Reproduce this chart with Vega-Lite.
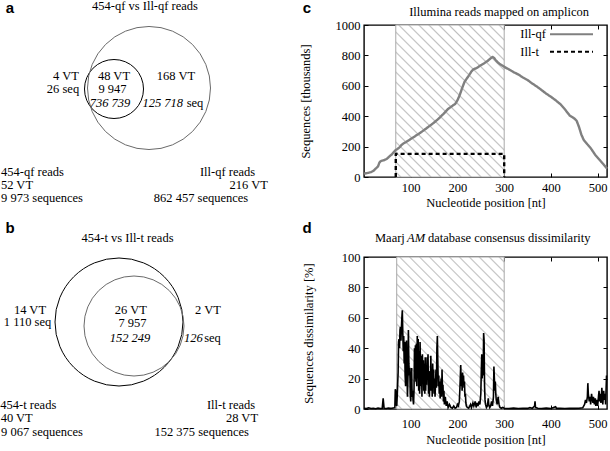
{
  "$schema": "https://vega.github.io/schema/vega-lite/v6.json",
  "padding": 0,
  "background": "white",
  "datasets": {
    "venn_sets": [
      {"panel": "a", "set": "454-qf", "platform": "454", "x": 114, "y": 89, "d": 59},
      {"panel": "a", "set": "Ill-qf", "platform": "Illumina", "x": 149, "y": 88, "d": 123},
      {"panel": "b", "set": "454-t", "platform": "454", "x": 119, "y": 322, "d": 128},
      {"panel": "b", "set": "Ill-t", "platform": "Illumina", "x": 134, "y": 326, "d": 100}
    ],
    "venn_text": [
      {"panel": "a", "t": "454-qf vs Ill-qf reads", "platform": "label", "x": 145, "y": 6},
      {"panel": "a", "t": "4 VT", "platform": "454", "x": 66, "y": 76},
      {"panel": "a", "t": "26 seq", "platform": "454", "x": 63, "y": 89},
      {"panel": "a", "t": "48 VT", "platform": "454", "x": 114, "y": 76},
      {"panel": "a", "t": "9 947", "platform": "454", "x": 112.5, "y": 89},
      {"panel": "a", "t": "736 739", "platform": "Illumina", "x": 110, "y": 102.5},
      {"panel": "a", "t": "168 VT", "platform": "label", "x": 176, "y": 76},
      {"panel": "a", "t": "125 718", "platform": "Illumina", "x": 162.7, "y": 102.5},
      {"panel": "a", "t": "seq", "platform": "label", "x": 195, "y": 102.5},
      {"panel": "a", "t": "454-qf reads", "platform": "label", "x": 32.5, "y": 171.5},
      {"panel": "a", "t": "52 VT", "platform": "label", "x": 17, "y": 184.8},
      {"panel": "a", "t": "9 973 sequences", "platform": "label", "x": 42, "y": 198.1},
      {"panel": "a", "t": "Ill-qf reads", "platform": "label", "x": 227.5, "y": 171.5},
      {"panel": "a", "t": "216 VT", "platform": "label", "x": 248.7, "y": 184.8},
      {"panel": "a", "t": "862 457 sequences", "platform": "label", "x": 201, "y": 198.1},
      {"panel": "b", "t": "454-t vs Ill-t reads", "platform": "label", "x": 127.5, "y": 238.3},
      {"panel": "b", "t": "14 VT", "platform": "454", "x": 30, "y": 309.5},
      {"panel": "b", "t": "1 110 seq", "platform": "454", "x": 27.5, "y": 322},
      {"panel": "b", "t": "26 VT", "platform": "454", "x": 130.8, "y": 310},
      {"panel": "b", "t": "7 957", "platform": "454", "x": 132.5, "y": 323.3},
      {"panel": "b", "t": "152 249", "platform": "Illumina", "x": 130, "y": 338.3},
      {"panel": "b", "t": "2 VT", "platform": "label", "x": 208, "y": 310},
      {"panel": "b", "t": "126", "platform": "Illumina", "x": 193.3, "y": 338.3},
      {"panel": "b", "t": "seq", "platform": "label", "x": 212.5, "y": 338.3},
      {"panel": "b", "t": "454-t reads", "platform": "label", "x": 28.3, "y": 405},
      {"panel": "b", "t": "40 VT", "platform": "label", "x": 16.7, "y": 418.3},
      {"panel": "b", "t": "9 067 sequences", "platform": "label", "x": 42, "y": 431.7},
      {"panel": "b", "t": "Ill-t reads", "platform": "label", "x": 231, "y": 405},
      {"panel": "b", "t": "28 VT", "platform": "label", "x": 242, "y": 418.3},
      {"panel": "b", "t": "152 375 sequences", "platform": "label", "x": 201.7, "y": 431.7}
    ],
    "venn_letters": [
      {"t": "a", "x": 10, "y": 8},
      {"t": "b", "x": 10, "y": 228}
    ],
    "c_region": [{"start": 68, "end": 300, "lo": 0, "hi": 1000}],
    "d_region": [{"start": 70, "end": 300, "lo": 0, "hi": 100}],
    "c_labels": [
      {"t": "c", "x": -122, "y": 1112, "role": "letter"},
      {"t": "Illumina reads mapped on amplicon", "x": 289, "y": 1085, "role": "title"}
    ],
    "c_series": [
      {"series": "Ill-qf", "nt": 0, "val": 22}, {"series": "Ill-qf", "nt": 5, "val": 25}, {"series": "Ill-qf", "nt": 10, "val": 28},
      {"series": "Ill-qf", "nt": 15, "val": 32}, {"series": "Ill-qf", "nt": 20, "val": 40}, {"series": "Ill-qf", "nt": 25, "val": 55},
      {"series": "Ill-qf", "nt": 30, "val": 70}, {"series": "Ill-qf", "nt": 33, "val": 95}, {"series": "Ill-qf", "nt": 36, "val": 105},
      {"series": "Ill-qf", "nt": 42, "val": 110}, {"series": "Ill-qf", "nt": 48, "val": 118}, {"series": "Ill-qf", "nt": 52, "val": 128},
      {"series": "Ill-qf", "nt": 56, "val": 140}, {"series": "Ill-qf", "nt": 60, "val": 150}, {"series": "Ill-qf", "nt": 64, "val": 165},
      {"series": "Ill-qf", "nt": 68, "val": 178}, {"series": "Ill-qf", "nt": 72, "val": 185}, {"series": "Ill-qf", "nt": 76, "val": 195},
      {"series": "Ill-qf", "nt": 80, "val": 210}, {"series": "Ill-qf", "nt": 85, "val": 222}, {"series": "Ill-qf", "nt": 90, "val": 230},
      {"series": "Ill-qf", "nt": 95, "val": 240}, {"series": "Ill-qf", "nt": 100, "val": 250}, {"series": "Ill-qf", "nt": 110, "val": 270},
      {"series": "Ill-qf", "nt": 120, "val": 290}, {"series": "Ill-qf", "nt": 130, "val": 312}, {"series": "Ill-qf", "nt": 140, "val": 335},
      {"series": "Ill-qf", "nt": 150, "val": 358}, {"series": "Ill-qf", "nt": 160, "val": 385}, {"series": "Ill-qf", "nt": 170, "val": 415},
      {"series": "Ill-qf", "nt": 180, "val": 448}, {"series": "Ill-qf", "nt": 190, "val": 470}, {"series": "Ill-qf", "nt": 195, "val": 480},
      {"series": "Ill-qf", "nt": 200, "val": 505}, {"series": "Ill-qf", "nt": 205, "val": 540}, {"series": "Ill-qf", "nt": 210, "val": 585},
      {"series": "Ill-qf", "nt": 215, "val": 625}, {"series": "Ill-qf", "nt": 220, "val": 648}, {"series": "Ill-qf", "nt": 225, "val": 670},
      {"series": "Ill-qf", "nt": 230, "val": 695}, {"series": "Ill-qf", "nt": 235, "val": 710}, {"series": "Ill-qf", "nt": 240, "val": 715},
      {"series": "Ill-qf", "nt": 250, "val": 735}, {"series": "Ill-qf", "nt": 258, "val": 750}, {"series": "Ill-qf", "nt": 265, "val": 765},
      {"series": "Ill-qf", "nt": 270, "val": 778}, {"series": "Ill-qf", "nt": 275, "val": 790}, {"series": "Ill-qf", "nt": 278, "val": 785},
      {"series": "Ill-qf", "nt": 282, "val": 768}, {"series": "Ill-qf", "nt": 286, "val": 755}, {"series": "Ill-qf", "nt": 290, "val": 745},
      {"series": "Ill-qf", "nt": 300, "val": 725}, {"series": "Ill-qf", "nt": 310, "val": 708}, {"series": "Ill-qf", "nt": 320, "val": 690},
      {"series": "Ill-qf", "nt": 330, "val": 675}, {"series": "Ill-qf", "nt": 340, "val": 655}, {"series": "Ill-qf", "nt": 350, "val": 638},
      {"series": "Ill-qf", "nt": 360, "val": 615}, {"series": "Ill-qf", "nt": 370, "val": 595}, {"series": "Ill-qf", "nt": 380, "val": 572},
      {"series": "Ill-qf", "nt": 390, "val": 548}, {"series": "Ill-qf", "nt": 400, "val": 528}, {"series": "Ill-qf", "nt": 410, "val": 505},
      {"series": "Ill-qf", "nt": 420, "val": 480}, {"series": "Ill-qf", "nt": 430, "val": 445}, {"series": "Ill-qf", "nt": 440, "val": 405},
      {"series": "Ill-qf", "nt": 450, "val": 385}, {"series": "Ill-qf", "nt": 455, "val": 370}, {"series": "Ill-qf", "nt": 460, "val": 330},
      {"series": "Ill-qf", "nt": 465, "val": 280}, {"series": "Ill-qf", "nt": 470, "val": 245}, {"series": "Ill-qf", "nt": 478, "val": 215},
      {"series": "Ill-qf", "nt": 485, "val": 190}, {"series": "Ill-qf", "nt": 495, "val": 145}, {"series": "Ill-qf", "nt": 505, "val": 110},
      {"series": "Ill-qf", "nt": 512, "val": 85}, {"series": "Ill-qf", "nt": 520, "val": 55},
      {"series": "Ill-t", "nt": 68, "val": 0}, {"series": "Ill-t", "nt": 68.01, "val": 152.4},
      {"series": "Ill-t", "nt": 300, "val": 152.4}, {"series": "Ill-t", "nt": 300.01, "val": 0}
    ],
    "d_series": [
      {"nt": 0, "val": 0.5}, {"nt": 5, "val": 0.3}, {"nt": 10, "val": 0.8}, {"nt": 15, "val": 0.3}, {"nt": 20, "val": 0.5},
      {"nt": 25, "val": 0.2}, {"nt": 30, "val": 0.6}, {"nt": 35, "val": 0.3}, {"nt": 39, "val": 0.5}, {"nt": 41, "val": 7},
      {"nt": 43, "val": 0.5}, {"nt": 48, "val": 0.3}, {"nt": 52, "val": 0.6}, {"nt": 56, "val": 0.4}, {"nt": 60, "val": 0.5},
      {"nt": 64, "val": 0.8}, {"nt": 66, "val": 1}, {"nt": 67, "val": 13}, {"nt": 68, "val": 12}, {"nt": 69, "val": 3},
      {"nt": 70, "val": 2}, {"nt": 71, "val": 8}, {"nt": 73, "val": 24}, {"nt": 74, "val": 44}, {"nt": 75, "val": 46},
      {"nt": 76, "val": 40}, {"nt": 77, "val": 52}, {"nt": 78, "val": 54}, {"nt": 79, "val": 45}, {"nt": 80, "val": 53},
      {"nt": 81, "val": 60}, {"nt": 82, "val": 65}, {"nt": 83, "val": 50}, {"nt": 84, "val": 38}, {"nt": 85, "val": 48},
      {"nt": 86, "val": 30}, {"nt": 87, "val": 44}, {"nt": 88, "val": 22}, {"nt": 89, "val": 15}, {"nt": 90, "val": 42},
      {"nt": 91, "val": 45}, {"nt": 92, "val": 25}, {"nt": 93, "val": 8}, {"nt": 94, "val": 20}, {"nt": 95, "val": 52},
      {"nt": 96, "val": 30}, {"nt": 97, "val": 22}, {"nt": 98, "val": 27}, {"nt": 99, "val": 10}, {"nt": 100, "val": 5},
      {"nt": 101, "val": 20}, {"nt": 102, "val": 27}, {"nt": 103, "val": 8}, {"nt": 104, "val": 12}, {"nt": 105, "val": 6},
      {"nt": 106, "val": 3}, {"nt": 107, "val": 12}, {"nt": 108, "val": 40}, {"nt": 109, "val": 20}, {"nt": 110, "val": 42},
      {"nt": 111, "val": 18}, {"nt": 112, "val": 43}, {"nt": 113, "val": 15}, {"nt": 114, "val": 48}, {"nt": 115, "val": 20},
      {"nt": 116, "val": 46}, {"nt": 117, "val": 12}, {"nt": 118, "val": 38}, {"nt": 119, "val": 10}, {"nt": 120, "val": 44},
      {"nt": 121, "val": 25}, {"nt": 122, "val": 15}, {"nt": 123, "val": 35}, {"nt": 124, "val": 8}, {"nt": 125, "val": 36},
      {"nt": 126, "val": 20}, {"nt": 127, "val": 32}, {"nt": 128, "val": 12}, {"nt": 129, "val": 30}, {"nt": 130, "val": 10},
      {"nt": 131, "val": 34}, {"nt": 132, "val": 12}, {"nt": 133, "val": 28}, {"nt": 134, "val": 16}, {"nt": 135, "val": 34},
      {"nt": 136, "val": 20}, {"nt": 137, "val": 36}, {"nt": 138, "val": 10}, {"nt": 139, "val": 25}, {"nt": 140, "val": 8},
      {"nt": 141, "val": 24}, {"nt": 142, "val": 12}, {"nt": 143, "val": 35}, {"nt": 144, "val": 12}, {"nt": 145, "val": 22},
      {"nt": 146, "val": 8}, {"nt": 147, "val": 30}, {"nt": 148, "val": 14}, {"nt": 149, "val": 26}, {"nt": 150, "val": 10},
      {"nt": 151, "val": 20}, {"nt": 152, "val": 8}, {"nt": 153, "val": 16}, {"nt": 154, "val": 26}, {"nt": 155, "val": 14},
      {"nt": 156, "val": 40}, {"nt": 157, "val": 48}, {"nt": 158, "val": 30}, {"nt": 159, "val": 15}, {"nt": 160, "val": 22},
      {"nt": 161, "val": 10}, {"nt": 162, "val": 18}, {"nt": 163, "val": 7}, {"nt": 164, "val": 14}, {"nt": 165, "val": 20},
      {"nt": 166, "val": 8}, {"nt": 167, "val": 26}, {"nt": 168, "val": 12}, {"nt": 169, "val": 16}, {"nt": 170, "val": 5},
      {"nt": 171, "val": 12}, {"nt": 172, "val": 3}, {"nt": 174, "val": 8}, {"nt": 176, "val": 2}, {"nt": 178, "val": 5},
      {"nt": 180, "val": 1}, {"nt": 183, "val": 3}, {"nt": 186, "val": 1}, {"nt": 189, "val": 0.5}, {"nt": 192, "val": 2},
      {"nt": 195, "val": 0.5}, {"nt": 198, "val": 1}, {"nt": 200, "val": 3}, {"nt": 202, "val": 2}, {"nt": 204, "val": 5},
      {"nt": 205, "val": 12}, {"nt": 206, "val": 20}, {"nt": 207, "val": 29}, {"nt": 208, "val": 15}, {"nt": 209, "val": 22},
      {"nt": 210, "val": 12}, {"nt": 211, "val": 24}, {"nt": 212, "val": 18}, {"nt": 213, "val": 22}, {"nt": 214, "val": 14},
      {"nt": 215, "val": 18}, {"nt": 216, "val": 8}, {"nt": 217, "val": 10}, {"nt": 218, "val": 4}, {"nt": 219, "val": 2},
      {"nt": 221, "val": 1}, {"nt": 224, "val": 0.5}, {"nt": 228, "val": 3}, {"nt": 230, "val": 1}, {"nt": 233, "val": 4},
      {"nt": 235, "val": 2}, {"nt": 238, "val": 5}, {"nt": 240, "val": 1}, {"nt": 242, "val": 4}, {"nt": 244, "val": 2},
      {"nt": 246, "val": 5}, {"nt": 248, "val": 3}, {"nt": 250, "val": 10}, {"nt": 251, "val": 25}, {"nt": 252, "val": 36},
      {"nt": 253, "val": 20}, {"nt": 254, "val": 33}, {"nt": 255, "val": 22}, {"nt": 256, "val": 50}, {"nt": 257, "val": 45},
      {"nt": 258, "val": 15}, {"nt": 259, "val": 6}, {"nt": 260, "val": 3}, {"nt": 262, "val": 1}, {"nt": 264, "val": 2},
      {"nt": 266, "val": 7}, {"nt": 267, "val": 3}, {"nt": 269, "val": 1}, {"nt": 271, "val": 2}, {"nt": 273, "val": 5},
      {"nt": 275, "val": 2}, {"nt": 277, "val": 8}, {"nt": 278, "val": 28}, {"nt": 279, "val": 20}, {"nt": 280, "val": 12},
      {"nt": 281, "val": 18}, {"nt": 282, "val": 10}, {"nt": 283, "val": 6}, {"nt": 285, "val": 3}, {"nt": 287, "val": 8},
      {"nt": 289, "val": 3}, {"nt": 291, "val": 1}, {"nt": 294, "val": 0.5}, {"nt": 297, "val": 1}, {"nt": 300, "val": 0.5},
      {"nt": 310, "val": 0.3}, {"nt": 320, "val": 0.6}, {"nt": 330, "val": 0.3}, {"nt": 340, "val": 0.5}, {"nt": 350, "val": 0.4},
      {"nt": 355, "val": 1}, {"nt": 360, "val": 0.5}, {"nt": 365, "val": 2}, {"nt": 366, "val": 5}, {"nt": 367, "val": 1},
      {"nt": 372, "val": 0.5}, {"nt": 380, "val": 0.3}, {"nt": 390, "val": 0.6}, {"nt": 400, "val": 0.3}, {"nt": 410, "val": 1.5},
      {"nt": 412, "val": 0.4}, {"nt": 420, "val": 0.5}, {"nt": 430, "val": 0.3}, {"nt": 440, "val": 0.5}, {"nt": 450, "val": 0.4},
      {"nt": 460, "val": 0.5}, {"nt": 468, "val": 0.8}, {"nt": 472, "val": 3}, {"nt": 474, "val": 6}, {"nt": 476, "val": 4},
      {"nt": 478, "val": 8}, {"nt": 479, "val": 17}, {"nt": 480, "val": 10}, {"nt": 482, "val": 5}, {"nt": 484, "val": 8},
      {"nt": 485, "val": 3}, {"nt": 487, "val": 10}, {"nt": 488, "val": 7}, {"nt": 490, "val": 4}, {"nt": 491, "val": 8},
      {"nt": 493, "val": 3}, {"nt": 495, "val": 7}, {"nt": 496, "val": 2}, {"nt": 498, "val": 6}, {"nt": 500, "val": 2},
      {"nt": 502, "val": 9}, {"nt": 503, "val": 12}, {"nt": 504, "val": 5}, {"nt": 506, "val": 10}, {"nt": 507, "val": 4},
      {"nt": 509, "val": 14}, {"nt": 510, "val": 8}, {"nt": 511, "val": 3}, {"nt": 513, "val": 12}, {"nt": 514, "val": 6},
      {"nt": 516, "val": 10}, {"nt": 517, "val": 3}, {"nt": 519, "val": 22}
    ],
    "d_labels": [
      {"t": "d", "x": -122, "y": 119.1, "role": "letter"},
      {"t": "Maarj", "x": 23.5, "y": 112.5, "role": "title"},
      {"t": "AM", "x": 92, "y": 112.5, "role": "title-italic"},
      {"t": "database consensus dissimilarity", "x": 137, "y": 112.5, "role": "title"}
    ]
  },
  "resolve": {"scale": {"color": "independent", "strokeDash": "independent"}, "legend": {"color": "independent", "strokeDash": "independent"}},
  "columns": 2,
  "spacing": 2,
  "concat": [
    {
      "width": 296,
      "height": 426,
      "view": {"stroke": null},
      "layer": [
        {
          "data": {"name": "venn_sets"},
          "transform": [{"filter": "datum.platform === '454'"}],
          "mark": {"type": "point", "shape": "circle", "filled": false, "strokeWidth": 1, "stroke": "#000000", "opacity": 1},
          "encoding": {
            "x": {"field": "x", "type": "quantitative", "scale": {"domain": [0, 296], "nice": false, "zero": false}, "axis": null},
            "y": {"field": "y", "type": "quantitative", "scale": {"domain": [25, 451], "reverse": true, "nice": false, "zero": false}, "axis": null},
            "size": {"field": "d", "type": "quantitative", "scale": {"type": "pow", "exponent": 2, "domain": [0, 100], "range": [0, 10000]}, "legend": null}
          }
        },
        {
          "data": {"name": "venn_sets"},
          "transform": [{"filter": "datum.platform === 'Illumina'"}],
          "mark": {"type": "point", "shape": "circle", "filled": false, "strokeWidth": 1, "stroke": "#6a6a6a", "opacity": 1},
          "encoding": {
            "x": {"field": "x", "type": "quantitative"},
            "y": {"field": "y", "type": "quantitative"},
            "size": {"field": "d", "type": "quantitative", "legend": null}
          }
        },
        {
          "data": {"name": "venn_text"},
          "transform": [{"filter": "datum.platform !== 'Illumina'"}],
          "mark": {"type": "text", "font": "Liberation Serif", "fontSize": 12.5, "align": "center", "baseline": "middle", "color": "black"},
          "encoding": {
            "x": {"field": "x", "type": "quantitative"},
            "y": {"field": "y", "type": "quantitative"},
            "text": {"field": "t"}
          }
        },
        {
          "data": {"name": "venn_text"},
          "transform": [{"filter": "datum.platform === 'Illumina'"}],
          "mark": {"type": "text", "font": "Liberation Serif", "fontSize": 12.5, "fontStyle": "italic", "align": "center", "baseline": "middle", "color": "black"},
          "encoding": {
            "x": {"field": "x", "type": "quantitative"},
            "y": {"field": "y", "type": "quantitative"},
            "text": {"field": "t"}
          }
        },
        {
          "data": {"name": "venn_letters"},
          "mark": {"type": "text", "font": "Liberation Sans", "fontSize": 15, "fontWeight": "bold", "align": "center", "baseline": "middle", "color": "black"},
          "encoding": {
            "x": {"field": "x", "type": "quantitative"},
            "y": {"field": "y", "type": "quantitative"},
            "text": {"field": "t"}
          }
        }
      ]
    },
    {
      "columns": 1,
      "spacing": 10,
      "resolve": {"scale": {"color": "independent", "strokeDash": "independent"}, "legend": {"color": "independent", "strokeDash": "independent"}},
      "concat": [
        {
          "width": 243,
          "height": 152,
          "resolve": {"axis": {"x": "independent", "y": "independent"}},
          "layer": [
            {
              "data": {"name": "c_region"},
              "mark": {"type": "rect", "stroke": "#a8a8a8", "strokeWidth": 1},
              "encoding": {
                "x": {"field": "start", "type": "quantitative", "scale": {"domain": [0, 520], "nice": false, "zero": false}, "axis": {"orient": "top", "labels": false, "title": null, "values": [100, 200, 300, 400, 500]}},
                "x2": {"field": "end"},
                "y": {"field": "lo", "type": "quantitative", "scale": {"domain": [0, 1000], "nice": false}, "axis": {"orient": "right", "labels": false, "title": null, "values": [200, 400, 600, 800]}},
                "y2": {"field": "hi"}
              }
            },
            {
              "data": {"name": "c_series"},
              "mark": {"type": "line", "strokeWidth": 2.4, "strokeJoin": "round"},
              "encoding": {
                "x": {"field": "nt", "type": "quantitative", "scale": {"domain": [0, 520], "nice": false, "zero": false}, "axis": {"orient": "bottom", "title": "Nucleotide position [nt]", "values": [100, 200, 300, 400, 500], "titlePadding": 3}},
                "y": {"field": "val", "type": "quantitative", "scale": {"domain": [0, 1000], "nice": false}, "axis": {"orient": "left", "title": "Sequences [thousands]", "values": [0, 200, 400, 600, 800, 1000], "format": "d", "titlePadding": 23}},
                "color": {"field": "series", "type": "nominal", "scale": {"domain": ["Ill-qf", "Ill-t"], "range": ["#808080", "#000000"]},
                  "legend": {"orient": "none", "legendX": 201, "legendY": 2.75, "title": null, "symbolType": "M-4,0H4", "symbolSize": 115.6, "symbolStrokeWidth": 2, "rowPadding": 4.5, "labelAlign": "left", "labelOffset": -57.75, "labelFont": "Liberation Serif", "labelFontSize": 12.5, "labelColor": "black", "padding": 0}},
                "strokeDash": {"field": "series", "type": "nominal", "scale": {"domain": ["Ill-qf", "Ill-t"], "range": [[1, 0], [4, 3]]},
                  "legend": {"orient": "none", "legendX": 201, "legendY": 2.75, "title": null, "symbolType": "M-4,0H4", "symbolSize": 115.6, "symbolStrokeWidth": 2, "rowPadding": 4.5, "labelAlign": "left", "labelOffset": -57.75, "labelFont": "Liberation Serif", "labelFontSize": 12.5, "labelColor": "black", "padding": 0}},
                "order": {"field": "nt", "type": "quantitative"}
              }
            },
            {
              "data": {"name": "c_labels"},
              "transform": [{"filter": "datum.role === 'title'"}],
              "mark": {"type": "text", "font": "Liberation Serif", "fontSize": 12.5, "align": "center", "baseline": "middle", "color": "black"},
              "encoding": {
                "x": {"field": "x", "type": "quantitative", "axis": null},
                "y": {"field": "y", "type": "quantitative", "axis": null},
                "text": {"field": "t"}
              }
            },
            {
              "data": {"name": "c_labels"},
              "transform": [{"filter": "datum.role === 'letter'"}],
              "mark": {"type": "text", "font": "Liberation Sans", "fontSize": 15, "fontWeight": "bold", "align": "center", "baseline": "middle", "color": "black"},
              "encoding": {
                "x": {"field": "x", "type": "quantitative", "axis": null},
                "y": {"field": "y", "type": "quantitative", "axis": null},
                "text": {"field": "t"}
              }
            }
          ]
        },
        {
          "width": 243,
          "height": 152,
          "resolve": {"axis": {"x": "independent", "y": "independent"}},
          "layer": [
            {
              "data": {"name": "d_region"},
              "mark": {"type": "rect", "stroke": "#a8a8a8", "strokeWidth": 1},
              "encoding": {
                "x": {"field": "start", "type": "quantitative", "scale": {"domain": [0, 520], "nice": false, "zero": false}, "axis": {"orient": "top", "labels": false, "title": null, "values": [100, 200, 300, 400, 500]}},
                "x2": {"field": "end"},
                "y": {"field": "lo", "type": "quantitative", "scale": {"domain": [0, 100], "nice": false}, "axis": {"orient": "right", "labels": false, "title": null, "values": [20, 40, 60, 80]}},
                "y2": {"field": "hi"}
              }
            },
            {
              "data": {"name": "d_series"},
              "mark": {"type": "line", "strokeWidth": 1.6, "color": "black", "strokeJoin": "miter"},
              "encoding": {
                "x": {"field": "nt", "type": "quantitative", "scale": {"domain": [0, 520], "nice": false, "zero": false}, "axis": {"orient": "bottom", "title": "Nucleotide position [nt]", "values": [100, 200, 300, 400, 500], "labelPadding": 12, "titlePadding": 4}},
                "y": {"field": "val", "type": "quantitative", "scale": {"domain": [0, 100], "nice": false}, "axis": {"orient": "left", "title": "Sequences dissimilarity [%]", "values": [0, 20, 40, 60, 80, 100], "format": "d", "titlePadding": 26}}
              }
            },
            {
              "data": {"name": "d_labels"},
              "transform": [{"filter": "datum.role === 'title'"}],
              "mark": {"type": "text", "font": "Liberation Serif", "fontSize": 12.5, "align": "left", "baseline": "middle", "color": "black"},
              "encoding": {
                "x": {"field": "x", "type": "quantitative", "axis": null},
                "y": {"field": "y", "type": "quantitative", "axis": null},
                "text": {"field": "t"}
              }
            },
            {
              "data": {"name": "d_labels"},
              "transform": [{"filter": "datum.role === 'title-italic'"}],
              "mark": {"type": "text", "font": "Liberation Serif", "fontSize": 12.5, "fontStyle": "italic", "align": "left", "baseline": "middle", "color": "black"},
              "encoding": {
                "x": {"field": "x", "type": "quantitative", "axis": null},
                "y": {"field": "y", "type": "quantitative", "axis": null},
                "text": {"field": "t"}
              }
            },
            {
              "data": {"name": "d_labels"},
              "transform": [{"filter": "datum.role === 'letter'"}],
              "mark": {"type": "text", "font": "Liberation Sans", "fontSize": 15, "fontWeight": "bold", "align": "center", "baseline": "middle", "color": "black"},
              "encoding": {
                "x": {"field": "x", "type": "quantitative", "axis": null},
                "y": {"field": "y", "type": "quantitative", "axis": null},
                "text": {"field": "t"}
              }
            }
          ]
        }
      ]
    }
  ],
  "config": {
    "font": "Liberation Serif",
    "view": {"stroke": "black", "strokeWidth": 1.4},
    "axis": {
      "labelFont": "Liberation Serif", "labelFontSize": 12.5, "labelColor": "black",
      "titleFont": "Liberation Serif", "titleFontSize": 12.5, "titleFontWeight": "normal", "titleColor": "black",
      "tickColor": "black", "tickSize": -4, "tickWidth": 1, "domain": false, "grid": false, "labelPadding": 8, "labelFlush": false
    },
    "rect": {
      "fill": {
        "gradient": "linear", "x1": 0, "y1": 1, "x2": 0.807, "y2": -0.137,
        "stops": [
          {"offset": 0, "color": "#ffffff"},
          {"offset": 0.0132, "color": "#ffffff"}, {"offset": 0.0192, "color": "#c0c0c0"}, {"offset": 0.0252, "color": "#ffffff"},
          {"offset": 0.0517, "color": "#ffffff"}, {"offset": 0.0577, "color": "#c0c0c0"}, {"offset": 0.0637, "color": "#ffffff"},
          {"offset": 0.0902, "color": "#ffffff"}, {"offset": 0.0962, "color": "#c0c0c0"}, {"offset": 0.1022, "color": "#ffffff"},
          {"offset": 0.1286, "color": "#ffffff"}, {"offset": 0.1346, "color": "#c0c0c0"}, {"offset": 0.1406, "color": "#ffffff"},
          {"offset": 0.1671, "color": "#ffffff"}, {"offset": 0.1731, "color": "#c0c0c0"}, {"offset": 0.1791, "color": "#ffffff"},
          {"offset": 0.2055, "color": "#ffffff"}, {"offset": 0.2115, "color": "#c0c0c0"}, {"offset": 0.2175, "color": "#ffffff"},
          {"offset": 0.244, "color": "#ffffff"}, {"offset": 0.25, "color": "#c0c0c0"}, {"offset": 0.256, "color": "#ffffff"},
          {"offset": 0.2825, "color": "#ffffff"}, {"offset": 0.2885, "color": "#c0c0c0"}, {"offset": 0.2945, "color": "#ffffff"},
          {"offset": 0.3209, "color": "#ffffff"}, {"offset": 0.3269, "color": "#c0c0c0"}, {"offset": 0.3329, "color": "#ffffff"},
          {"offset": 0.3594, "color": "#ffffff"}, {"offset": 0.3654, "color": "#c0c0c0"}, {"offset": 0.3714, "color": "#ffffff"},
          {"offset": 0.3978, "color": "#ffffff"}, {"offset": 0.4038, "color": "#c0c0c0"}, {"offset": 0.4098, "color": "#ffffff"},
          {"offset": 0.4363, "color": "#ffffff"}, {"offset": 0.4423, "color": "#c0c0c0"}, {"offset": 0.4483, "color": "#ffffff"},
          {"offset": 0.4748, "color": "#ffffff"}, {"offset": 0.4808, "color": "#c0c0c0"}, {"offset": 0.4868, "color": "#ffffff"},
          {"offset": 0.5132, "color": "#ffffff"}, {"offset": 0.5192, "color": "#c0c0c0"}, {"offset": 0.5252, "color": "#ffffff"},
          {"offset": 0.5517, "color": "#ffffff"}, {"offset": 0.5577, "color": "#c0c0c0"}, {"offset": 0.5637, "color": "#ffffff"},
          {"offset": 0.5902, "color": "#ffffff"}, {"offset": 0.5962, "color": "#c0c0c0"}, {"offset": 0.6022, "color": "#ffffff"},
          {"offset": 0.6286, "color": "#ffffff"}, {"offset": 0.6346, "color": "#c0c0c0"}, {"offset": 0.6406, "color": "#ffffff"},
          {"offset": 0.6671, "color": "#ffffff"}, {"offset": 0.6731, "color": "#c0c0c0"}, {"offset": 0.6791, "color": "#ffffff"},
          {"offset": 0.7055, "color": "#ffffff"}, {"offset": 0.7115, "color": "#c0c0c0"}, {"offset": 0.7175, "color": "#ffffff"},
          {"offset": 0.744, "color": "#ffffff"}, {"offset": 0.75, "color": "#c0c0c0"}, {"offset": 0.756, "color": "#ffffff"},
          {"offset": 0.7825, "color": "#ffffff"}, {"offset": 0.7885, "color": "#c0c0c0"}, {"offset": 0.7945, "color": "#ffffff"},
          {"offset": 0.8209, "color": "#ffffff"}, {"offset": 0.8269, "color": "#c0c0c0"}, {"offset": 0.8329, "color": "#ffffff"},
          {"offset": 0.8594, "color": "#ffffff"}, {"offset": 0.8654, "color": "#c0c0c0"}, {"offset": 0.8714, "color": "#ffffff"},
          {"offset": 0.8978, "color": "#ffffff"}, {"offset": 0.9038, "color": "#c0c0c0"}, {"offset": 0.9098, "color": "#ffffff"},
          {"offset": 0.9363, "color": "#ffffff"}, {"offset": 0.9423, "color": "#c0c0c0"}, {"offset": 0.9483, "color": "#ffffff"},
          {"offset": 0.9748, "color": "#ffffff"}, {"offset": 0.9808, "color": "#c0c0c0"}, {"offset": 0.9868, "color": "#ffffff"},
          {"offset": 1, "color": "#ffffff"}
        ]
      }
    }
  }
}
